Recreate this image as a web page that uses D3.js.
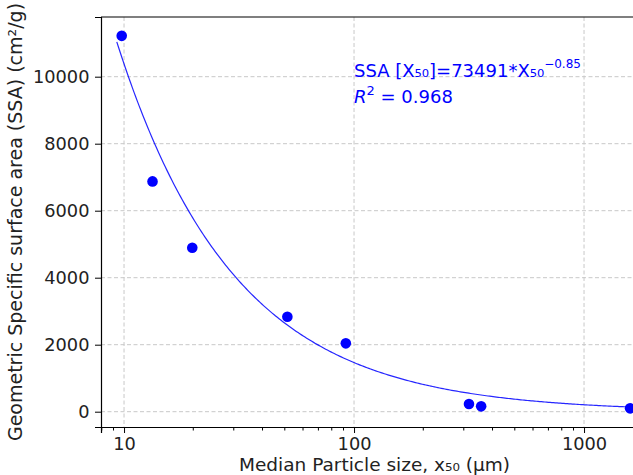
<!doctype html>
<html lang="en">
<head>
    <meta charset="utf-8">
    <title>SSA vs particle size</title>
    <script src="https://d3js.org/d3.v7.min.js"></script>
    <style>
        body { margin: 0; background: white; }
        svg { display: block; font-family: "DejaVu Sans", sans-serif; }
    </style>
</head>
<body>
    <svg id="svg" width="633" height="475"></svg>
    <script>
        // measured points (median particle size in um, SSA in cm2/g)
        const sizes = [9.77, 13.3, 19.8, 51.3, 92.1, 316, 357, 1585];
        const ssa = [11220, 6875, 4895, 2835, 2040, 230, 160, 100];

        // fitted power law shown on the chart
        const fitA = 73491, fitB = -0.85;
        const fitFrom = 9.3, fitTo = 1660;

        const xTicks = [10, 100, 1000];
        const yTicks = [0, 2000, 4000, 6000, 8000, 10000];

        let width = 633, height = 475;
        let margin = { top: 17, right: -15, bottom: 48, left: 101 };
        let innerW = width - margin.left - margin.right;
        let innerH = height - margin.top - margin.bottom;

        let svg = d3.select("#svg");
        let blue = "#0000ff";

        let xScale = d3.scaleLog().domain([7.94, 1897]).range([0, innerW]);
        let yScale = d3.scaleLinear().domain([-457, 11782]).range([innerH, 0]);

        let plot = svg.append("g").attr("transform", `translate(${margin.left}, ${margin.top})`);

        // grid
        let grid = plot.append("g")
            .attr("stroke", "#c8c8c8")
            .attr("stroke-width", 1)
            .attr("stroke-dasharray", "4,2.5");
        grid.selectAll(".gx").data(xTicks).join("line")
            .attr("x1", d => xScale(d)).attr("x2", d => xScale(d))
            .attr("y1", 0).attr("y2", innerH);
        grid.selectAll(".gy").data(yTicks).join("line")
            .attr("y1", d => yScale(d)).attr("y2", d => yScale(d))
            .attr("x1", 0).attr("x2", innerW);

        // fit curve
        let curveX = d3.range(0, 301).map(i => fitFrom * Math.pow(fitTo / fitFrom, i / 300));
        plot.append("path")
            .datum(curveX)
            .attr("fill", "none")
            .attr("stroke", blue)
            .attr("stroke-opacity", 0.85)
            .attr("stroke-width", 1.2)
            .attr("d", d3.line().x(d => xScale(d)).y(d => yScale(fitA * Math.pow(d, fitB))));

        // points
        plot.selectAll("circle")
            .data(sizes)
            .join("circle")
            .attr("cx", d => xScale(d))
            .attr("cy", (d, i) => yScale(ssa[i]))
            .attr("r", 5.3)
            .attr("fill", blue);

        // axes
        let xAxis = plot.append("g")
            .attr("transform", `translate(0, ${innerH})`)
            .call(d3.axisBottom(xScale).tickValues(xTicks).tickFormat(d3.format("d")).tickSizeOuter(0).tickSize(6).tickPadding(4));
        let minor = d3.range(1, 4).flatMap(e => d3.range(2, 10).map(m => m * Math.pow(10, e - 1)))
            .filter(v => v > 7.94 && v < 1897 && !xTicks.includes(v));
        xAxis.selectAll(".minor").data(minor).join("line")
            .attr("class", "minor")
            .attr("x1", d => xScale(d)).attr("x2", d => xScale(d))
            .attr("y1", 0).attr("y2", 3.5)
            .attr("stroke", "black").attr("stroke-width", 1);

        let yAxis = plot.append("g")
            .call(d3.axisLeft(yScale).tickValues(yTicks).tickFormat(d3.format("d")).tickSizeOuter(0).tickSize(6).tickPadding(5.5));

        [xAxis, yAxis].forEach(a => {
            a.selectAll("text").attr("font-size", 17.8).attr("fill", "#222").attr("font-family", "DejaVu Sans");
            a.select(".domain").attr("stroke-width", 1.2);
        });

        // box top
        plot.append("line").attr("x1", 0).attr("x2", innerW).attr("y1", 0).attr("y2", 0)
            .attr("stroke", "black").attr("stroke-width", 1.2);

        // annotation
        let ann = plot.append("text")
            .attr("x", xScale(100))
            .attr("y", 77 - margin.top)
            .attr("fill", blue)
            .attr("font-size", 18);
        ann.append("tspan").text("SSA [X₅₀]=73491*X₅₀");
        ann.append("tspan").attr("dy", -9).attr("font-size", 12).text("−0.85");

        let r2 = plot.append("text")
            .attr("x", xScale(100))
            .attr("y", 103 - margin.top)
            .attr("fill", blue)
            .attr("font-size", 18);
        r2.append("tspan").attr("font-style", "italic").text("R");
        r2.append("tspan").attr("dy", -8).attr("font-size", 13).text("2");
        r2.append("tspan").attr("dy", 8).text(" = 0.968");

        // axis labels
        svg.append("text")
            .attr("x", margin.left + innerW / 2)
            .attr("y", 471)
            .attr("text-anchor", "middle")
            .attr("font-size", 18.5)
            .attr("fill", "#222")
            .text("Median Particle size, x₅₀ (µm)");

        svg.append("text")
            .attr("transform", `translate(22, ${margin.top + innerH / 2}) rotate(-90)`)
            .attr("text-anchor", "middle")
            .attr("font-size", 19)
            .attr("fill", "#222")
            .text("Geometric Specific surface area (SSA) (cm²/g)");
    </script>
</body>
</html>
